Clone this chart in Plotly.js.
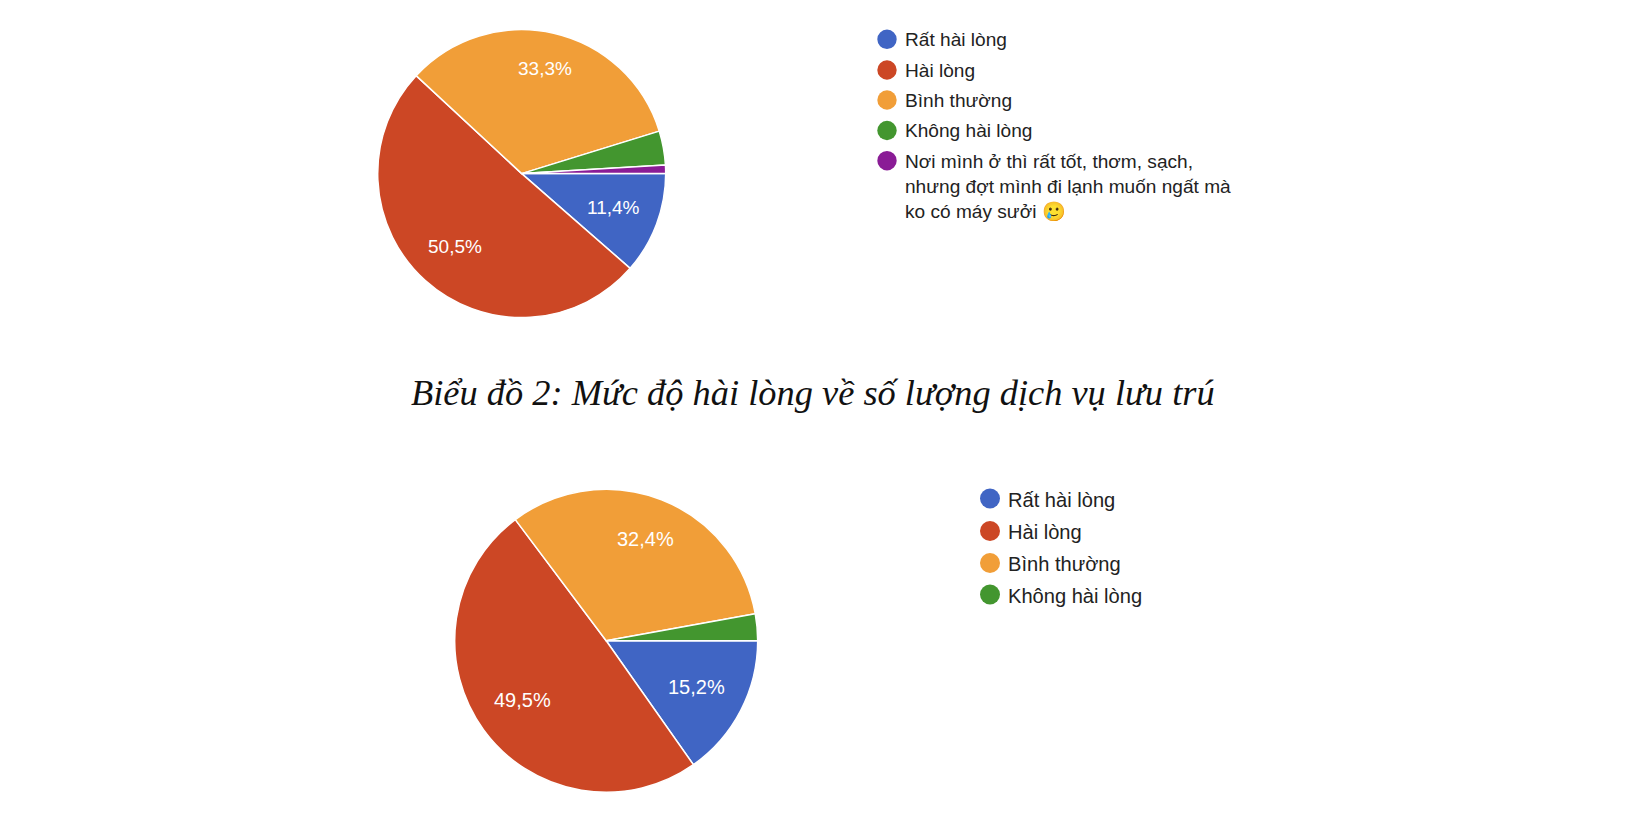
<!DOCTYPE html>
<html><head><meta charset="utf-8">
<script src="https://cdn.plot.ly/plotly-3.0.1.min.js"></script>
<style>html,body{margin:0;padding:0;background:#fff}#c{width:1642px;height:816px}</style>
</head><body><div id="c"></div>
<script>
const W=1642,H=816;
const labels1=["Rất hài lòng","Hài lòng","Bình thường","Không hài lòng","Nơi mình ở thì rất tốt, thơm, sạch,<br>nhưng đợt mình đi lạnh muốn ngất mà<br>ko có máy sưởi 🥲"];
const values1=[12,53,35,4,1];
const pctText1=["11,4%","50,5%","33,3%","",""];
const labels2=["Rất hài lòng","Hài lòng","Bình thường","Không hài lòng"];
const values2=[16,52,34,3];
const pctText2=["15,2%","49,5%","32,4%",""];
const colors=["#4065c4","#cc4725","#f19e38","#43962f","#8a1c96"];
const titleText="Biểu đồ 2: Mức độ hài lòng về số lượng dịch vụ lưu trú";

const sans='"Liberation Sans",Arial,sans-serif';
const shapes=[],annotations=[];
function dom(cx,cy,r){return {x:[(cx-r)/W,(cx+r)/W],y:[1-(cy+r)/H,1-(cy-r)/H]};}
function pie(labels,values,d){return {type:'pie',labels:labels,values:values,textinfo:'none',
  sort:false,direction:'clockwise',rotation:90,
  marker:{colors:colors,line:{color:'#fff',width:1.5}},domain:d,showlegend:false,hoverinfo:'label+percent'};}
// percent labels sit on each sector's bisector, computed from the values
function sliceLabels(values,text,cx,cy,r,fracs,size){
  const total=values.reduce((a,b)=>a+b,0);let acc=0;
  values.forEach((v,i)=>{
    const mid=(acc+v/2)/total*2*Math.PI;acc+=v;
    if(!text[i])return;
    annotations.push({xref:'paper',yref:'paper',x:(cx+Math.cos(mid)*r*fracs[i])/W,y:1-(cy-1+Math.sin(mid)*r*fracs[i])/H,
      xanchor:'center',yanchor:'middle',showarrow:false,text:text[i],font:{family:sans,size:size,color:'#fff'}});
  });
}
function legend(labels,xc,ys,tx,rad,size,off){labels.forEach((l,i)=>{
  shapes.push({type:'circle',xref:'paper',yref:'paper',x0:(xc-rad)/W,x1:(xc+rad)/W,y0:1-(ys[i]+rad)/H,y1:1-(ys[i]-rad)/H,fillcolor:colors[i],line:{width:0}});
  annotations.push({xref:'paper',yref:'paper',x:tx/W,y:1-(ys[i]-size*off)/H,xanchor:'left',yanchor:'top',align:'left',showarrow:false,text:l,
    font:{family:sans,size:size,color:'#222'}});
});}
const traces=[pie(labels1,values1,dom(521.7,173.6,144)),pie(labels2,values2,dom(606.2,640.8,151.5))];
sliceLabels(values1,pctText1,521.7,173.6,144,[0.68,0.69,0.74],19);
sliceLabels(values2,pctText2,606.2,640.8,151.5,[0.67,0.68,0.715],20);
legend(labels1,887,[39.3,70,100,130.5,160.7],903,9.7,19.1,0.63);
legend(labels2,990,[498.5,531,563,594.5],1006,10,20.1,0.58);
annotations.push({xref:'paper',yref:'paper',x:812.6/W,y:1-393/H,xanchor:'center',yanchor:'middle',showarrow:false,text:titleText,
  font:{family:'"Liberation Serif","Times New Roman",serif',size:36.4,color:'#111',style:'italic'}});
Plotly.newPlot('c',traces,{width:W,height:H,margin:{l:0,r:0,t:0,b:0},paper_bgcolor:'#fff',shapes:shapes,annotations:annotations},{displayModeBar:false,staticPlot:true});
</script></body></html>
